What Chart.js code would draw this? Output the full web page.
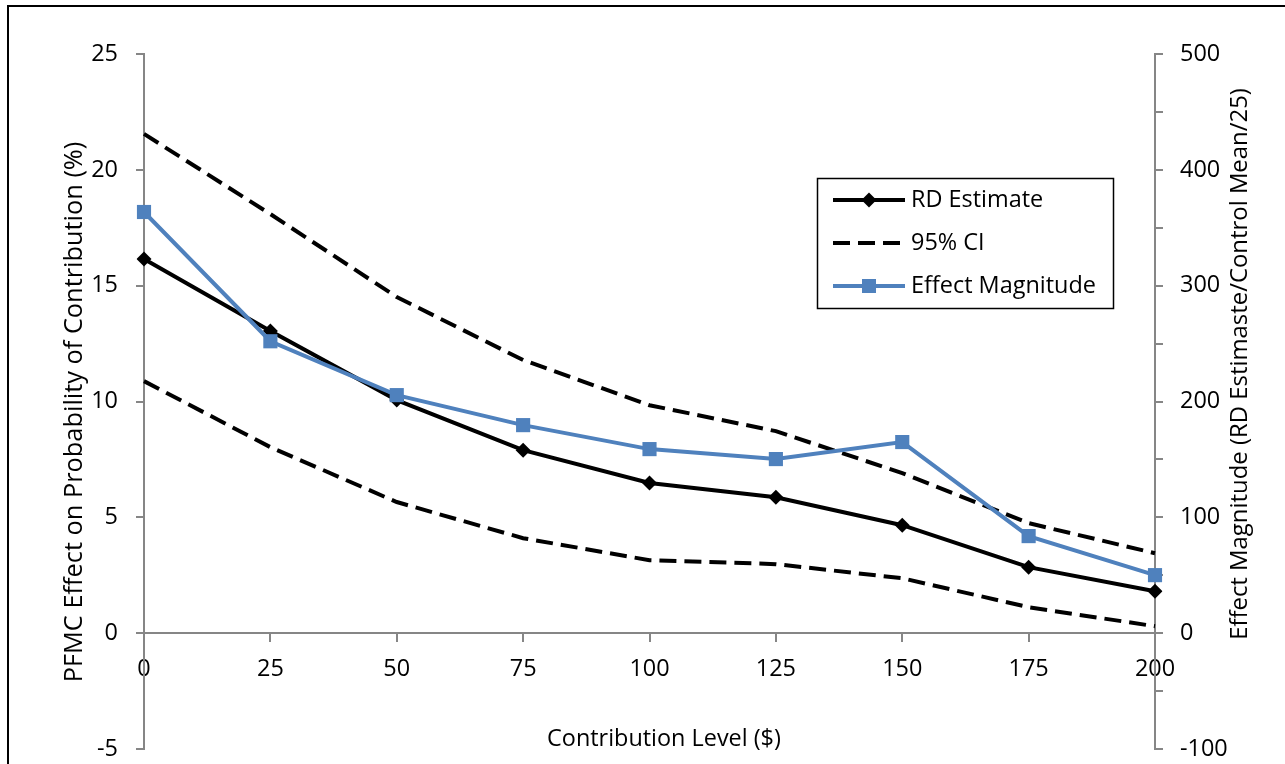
<!DOCTYPE html>
<html><head><meta charset="utf-8">
<script src="https://cdn.jsdelivr.net/npm/chart.js@4.4.1/dist/chart.umd.min.js"></script>
<style>
html,body{margin:0;padding:0;background:#fff;overflow:hidden}
#wrap{position:absolute;left:0;top:0;width:1285px;height:764px}
#frame{position:absolute;left:7px;top:5px;width:1300px;height:820px;border-left:2px solid #000;border-top:2px solid #000;pointer-events:none}
</style></head>
<body>
<div id="wrap"><canvas id="c" width="1285" height="764"></canvas></div>
<div id="frame"></div>
<script>
const categories = ['0','25','50','75','100','125','150','175','200'];
const rdEstimate = [16.15, 13.04, 10.06, 7.90, 6.48, 5.87, 4.66, 2.85, 1.81];
const ciUpper = [21.55, 18.09, 14.51, 11.79, 9.84, 8.72, 6.91, 4.75, 3.45];
const ciLower = [10.88, 8.03, 5.66, 4.10, 3.15, 2.98, 2.37, 1.12, 0.30];
const effectMagnitude = [363.6, 252.0, 205.5, 179.6, 158.9, 150.3, 165.0, 83.8, 50.1];
const leftAxisTicks = [-5, 0, 5, 10, 15, 20, 25];
const rightAxisTicks = [-100, 0, 100, 200, 300, 400, 500];
const legendLabels = ['RD Estimate', '95% CI', 'Effect Magnitude'];
const xTitle = 'Contribution Level ($)';
const yTitle = 'PFMC Effect on Probability of Contribution (%)';
const y1Title = 'Effect Magnitude (RD Estimaste/Control Mean/25)';

const FONT = '"Open Sans", "Liberation Sans", sans-serif';
const BLUE = '#4F81BD';
const AXIS = '#868686';
const DASH = [17, 8];

// fit font sizes to the reference's text widths
const mctx = document.createElement('canvas').getContext('2d');
function fitSize(text, target) {
  mctx.font = '20px ' + FONT;
  return 20 * target / mctx.measureText(text).width;
}
const baseSize = fitSize(legendLabels[2], 185);
const xTitleSize = fitSize(xTitle, 234);
const yTitleSize = fitSize(yTitle, 541);
const y1TitleSize = fitSize(y1Title, 552);

const titlesAndLegend = {
  id: 'titlesAndLegend',
  afterDraw(chart) {
    const ctx = chart.ctx;
    ctx.save();
    ctx.fillStyle = '#000';
    ctx.textAlign = 'center';
    ctx.textBaseline = 'middle';
    ctx.font = xTitleSize + 'px ' + FONT;
    ctx.fillText(xTitle, 664, 739);
    ctx.font = yTitleSize + 'px ' + FONT;
    ctx.save(); ctx.translate(75, 412); ctx.rotate(-Math.PI/2); ctx.fillText(yTitle, 0, 0); ctx.restore();
    ctx.font = y1TitleSize + 'px ' + FONT;
    ctx.save(); ctx.translate(1240, 364); ctx.rotate(-Math.PI/2); ctx.fillText(y1Title, 0, 0); ctx.restore();

    // legend
    ctx.lineWidth = 1.5; ctx.strokeStyle = '#000';
    ctx.strokeRect(817.5, 178.5, 296, 130);
    const rows = [200, 243, 286];
    const x0 = 833, x1 = 905, xm = 869;
    ctx.lineWidth = 4;
    ctx.strokeStyle = '#000'; ctx.setLineDash([]);
    ctx.beginPath(); ctx.moveTo(x0, rows[0]); ctx.lineTo(x1, rows[0]); ctx.stroke();
    ctx.fillStyle = '#000';
    ctx.beginPath(); ctx.moveTo(xm-7.5, rows[0]); ctx.lineTo(xm, rows[0]-7.5); ctx.lineTo(xm+7.5, rows[0]); ctx.lineTo(xm, rows[0]+7.5); ctx.closePath(); ctx.fill();
    ctx.setLineDash(DASH);
    ctx.beginPath(); ctx.moveTo(x0, rows[1]); ctx.lineTo(x1, rows[1]); ctx.stroke();
    ctx.setLineDash([]);
    ctx.strokeStyle = BLUE; ctx.fillStyle = BLUE;
    ctx.beginPath(); ctx.moveTo(x0, rows[2]); ctx.lineTo(x1, rows[2]); ctx.stroke();
    ctx.fillRect(xm-7, rows[2]-7, 14, 14);
    ctx.fillStyle = '#000';
    ctx.textAlign = 'left';
    ctx.font = baseSize + 'px ' + FONT;
    legendLabels.forEach((t, i) => ctx.fillText(t, 911, rows[i]));
    ctx.restore();
  }
};

const tickFont = { family: FONT, size: baseSize };

new Chart(document.getElementById('c'), {
  type: 'line',
  data: {
    labels: categories,
    datasets: [
      { label: legendLabels[2], data: effectMagnitude, yAxisID: 'y1', order: 1,
        borderColor: BLUE, backgroundColor: BLUE, borderWidth: 4,
        pointStyle: 'rect', pointRadius: 10, pointBorderWidth: 0, pointBackgroundColor: BLUE, tension: 0 },
      { label: legendLabels[0], data: rdEstimate, yAxisID: 'y', order: 2,
        borderColor: '#000', backgroundColor: '#000', borderWidth: 4,
        pointStyle: 'rectRot', pointRadius: 7.5, pointBorderWidth: 0, pointBackgroundColor: '#000', tension: 0 },
      { label: legendLabels[1], data: ciUpper, yAxisID: 'y', order: 3,
        borderColor: '#000', borderWidth: 4, borderDash: DASH, pointRadius: 0, tension: 0 },
      { label: legendLabels[1] + ' lower', data: ciLower, yAxisID: 'y', order: 4,
        borderColor: '#000', borderWidth: 4, borderDash: DASH, pointRadius: 0, tension: 0 }
    ]
  },
  options: {
    responsive: false, animation: false,
    layout: { padding: { top: 54, bottom: 15, left: 0, right: 0 } },
    plugins: { legend: { display: false }, tooltip: { enabled: false } },
    scales: {
      x: {
        type: 'category', position: { y: 0 }, offset: false,
        grid: { drawOnChartArea: false, drawTicks: true, tickLength: 8, color: AXIS, lineWidth: 2 },
        border: { color: AXIS, width: 2 },
        ticks: { color: '#000', font: tickFont, padding: 14, maxRotation: 0, autoSkip: false },
        afterFit(s) { s.paddingTop = 0; s.paddingBottom = 0; }
      },
      y: {
        position: 'left', min: leftAxisTicks[0], max: leftAxisTicks[leftAxisTicks.length-1],
        grid: { drawOnChartArea: false, drawTicks: true, tickLength: 8, color: AXIS, lineWidth: 2 },
        border: { color: AXIS, width: 2 },
        ticks: { stepSize: 5, color: '#000', font: tickFont, padding: 18,
                 callback: v => leftAxisTicks.includes(v) ? String(v) : '' },
        afterFit(s) { s.width = 144; s.paddingBottom = 0; s.paddingTop = 0; }
      },
      y1: {
        position: 'right', min: rightAxisTicks[0], max: rightAxisTicks[rightAxisTicks.length-1],
        grid: { drawOnChartArea: false, drawTicks: true, tickLength: 8, color: AXIS, lineWidth: 2 },
        border: { color: AXIS, width: 2 },
        ticks: { stepSize: 50, color: '#000', font: tickFont, padding: 17,
                 callback: v => rightAxisTicks.includes(v) ? String(v) : '' },
        afterFit(s) { s.width = 130; s.paddingBottom = 0; s.paddingTop = 0; }
      }
    }
  },
  plugins: [titlesAndLegend]
});
</script>
</body></html>
